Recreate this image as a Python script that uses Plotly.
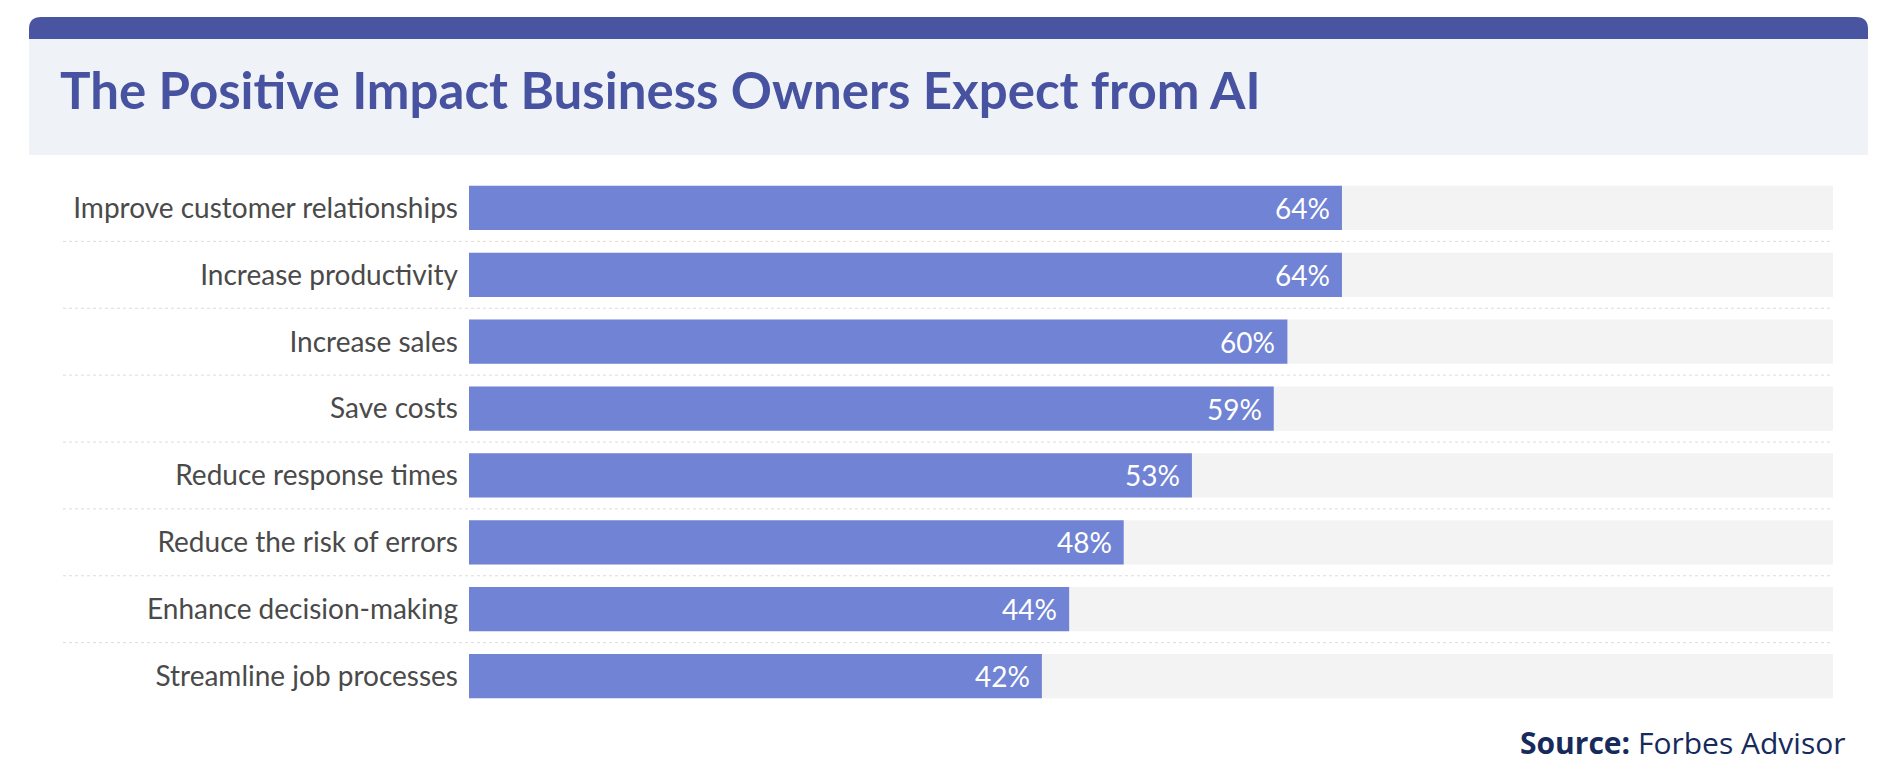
import plotly.graph_objects as go

# ---- data ----
categories = [
    "Improve customer relationships",
    "Increase productivity",
    "Increase sales",
    "Save costs",
    "Reduce response times",
    "Reduce the risk of errors",
    "Enhance decision-making",
    "Streamline job processes",
]
values = [64, 64, 60, 59, 53, 48, 44, 42]
track_max = [100] * len(categories)

title_text = "The Positive Impact Business Owners Expect from AI"

# page body has an 8px margin; figure is placed at (8, 8)
OFF = 8
W, H = 1881 - 2 * OFF, 779 - 2 * OFF


def px(x):
    return (x - OFF) / W


def py(y):
    return 1 - (y - OFF) / H


fig = go.Figure()

fig.add_trace(go.Bar(
    y=categories, x=track_max, orientation="h",
    marker=dict(color="#f3f3f3", line=dict(width=0)),
    hoverinfo="skip", showlegend=False,
))
fig.add_trace(go.Bar(
    y=categories, x=values, orientation="h",
    marker=dict(color="#7183d4", line=dict(width=0)),
    hoverinfo="skip", showlegend=False,
))

# value labels inside bar ends
for c, v in zip(categories, values):
    fig.add_annotation(
        x=v, y=c, xref="x", yref="y", text=f"{v}%",
        showarrow=False, xanchor="right", xshift=-10,
        font=dict(family="Lato", size=28, color="white"),
    )

shapes = []
# header panel
shapes.append(dict(type="rect", xref="paper", yref="paper",
                   x0=px(29), x1=px(1868), y0=py(155), y1=py(38),
                   fillcolor="#eff3f7", line=dict(width=0), layer="below"))
# dark band with rounded top corners
r = 12
x0, x1, yt, yb = px(29), px(1868), py(17), py(39)
rx, ry = r / W, r / H
path = (f"M {x0},{yb} L {x0},{yt - ry} Q {x0},{yt} {x0 + rx},{yt} "
        f"L {x1 - rx},{yt} Q {x1},{yt} {x1},{yt - ry} L {x1},{yb} Z")
shapes.append(dict(type="path", xref="paper", yref="paper", path=path,
                   fillcolor="#4955a0", line=dict(width=0), layer="below"))
# dotted separators between rows
for i in range(len(categories) - 1):
    shapes.append(dict(type="line", xref="paper", yref="y",
                       x0=px(63), x1=px(1832), y0=i + 0.5, y1=i + 0.5,
                       line=dict(color="#dcdcdc", width=1, dash="dot"),
                       layer="below"))

fig.update_layout(
    width=W, height=H,
    margin=dict(l=0, r=0, t=0, b=0),
    paper_bgcolor="white", plot_bgcolor="white",
    barmode="overlay", bargap=0.34,
    shapes=shapes,
    xaxis=dict(range=[0, 100], domain=[px(469), px(1833)],
               showgrid=False, zeroline=False, showticklabels=False,
               fixedrange=True),
    yaxis=dict(categoryorder="array", categoryarray=categories,
               autorange="reversed",
               domain=[py(709.5), py(174.5)],
               showgrid=False, zeroline=False, ticks="",
               ticklabelstandoff=10,
               tickfont=dict(family="Lato", size=28, color="#4a4a4a"),
               fixedrange=True),
    font=dict(family="Lato"),
)

fig.add_annotation(
    x=px(58), y=py(89), xref="paper", yref="paper",
    text=f"<b>{title_text}</b>", showarrow=False,
    xanchor="left", yanchor="middle",
    font=dict(family="Lato", size=51, color="#4753a0"),
)

fig.add_annotation(
    x=px(1848), y=py(742), xref="paper", yref="paper",
    text="<b>Source:</b> Forbes Advisor", showarrow=False,
    xanchor="right", yanchor="middle",
    font=dict(family="Open Sans", size=30, color="#172a5c"),
)

fig.write_html("out.html")
